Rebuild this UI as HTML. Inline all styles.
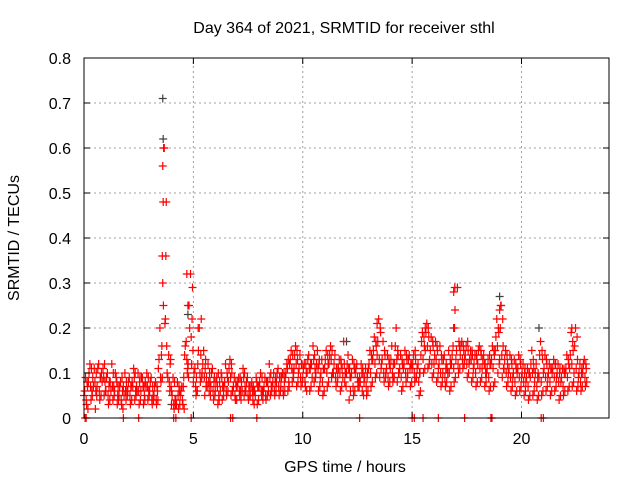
<!DOCTYPE html>
<html><head><meta charset="utf-8"><style>
body{margin:0;background:#fff}
svg{display:block;font-family:"Liberation Sans",sans-serif}
</style></head><body>
<svg id="chart" width="640" height="480">
<rect width="640" height="480" fill="#fff"/>
<text x="344" y="33" font-size="16" text-anchor="middle">Day 364 of 2021, SRMTID for receiver sthl</text>
<text x="345" y="472" font-size="16" text-anchor="middle">GPS time / hours</text>
<text transform="translate(19,238) rotate(-90)" font-size="16" text-anchor="middle">SRMTID / TECUs</text>
<g id="grid"></g>
<g id="marks"></g>
<rect x="84" y="58" width="525" height="360" fill="none" stroke="#000" stroke-width="1"/>
<g id="ticks"></g>
</svg>
<script>
const xTicks=[0,5,10,15,20];
const yTicks=[0,0.1,0.2,0.3,0.4,0.5,0.6,0.7,0.8];
const yTickLabels=["0","0.1","0.2","0.3","0.4","0.5","0.6","0.7","0.8"];
const hours=[0,0.2,0.4,0.6,0.8,1,1.2,1.4,1.6,1.8,2,2.2,2.4,2.6,2.8,3,3.2,
3.4,3.6,3.8,4,4.2,4.4,4.6,4.8,5,
5.2,5.4,5.6,5.8,6,6.2,6.4,6.6,6.8,7,
7.2,7.4,7.6,7.8,8,8.2,8.4,8.6,8.8,9,
9.2,9.4,9.6,9.8,10,10.2,10.4,10.6,10.8,11,
11.2,11.4,11.6,11.8,12,12.2,12.4,12.6,12.8,13,
13.2,13.4,13.6,13.8,14,14.2,14.4,14.6,14.8,15,
15.2,15.4,15.6,15.8,16,16.2,16.4,16.6,16.8,17,
17.2,17.4,17.6,17.8,18,18.2,18.4,18.6,18.8,19,
19.2,19.4,19.6,19.8,20,20.2,20.4,20.6,20.8,21,
21.2,21.4,21.6,21.8,22,22.2,22.4,22.6,22.8];
const seriesA=[5,8,9,7,10,6,8,6,5,7,6,8,7,6,8,6,5,
11,30,10,6,4,5,14,25,8,
12,10,9,7,6,8,7,8,6,7,
8,6,5,6,7,6,8,7,8,7,
9,12,11,10,9,10,12,10,9,11,
12,10,9,11,10,9,10,9,8,11,
13,14,12,10,11,12,10,11,10,11,
9,14,15,13,12,11,10,11,12,13,
14,13,12,11,12,11,10,12,15,13,
11,10,9,10,9,8,9,8,9,10,
9,10,9,8,10,11,10,9,10];
const seriesB=[9,12,11,12,11,10,12,9,8,10,9,11,10,9,10,9,8,
20,60,14,9,8,7,17,32,11,
20,15,12,11,9,10,12,13,9,9,
11,9,8,9,10,9,12,10,11,10,
12,15,16,14,12,14,16,15,13,15,
16,14,13,17,14,13,12,12,11,15,
18,22,17,14,16,20,14,15,14,14,
12,19,21,18,17,16,14,15,16,29,
17,16,15,14,16,14,13,16,22,25,
15,14,13,14,12,11,15,12,17,14,
12,13,12,11,14,19,20,12,13];
const seriesC=[3,4,2,4,5,3,4,3,3,4,3,4,3,3,4,3,3,
8,22,6,2,2,3,10,12,5,
8,5,6,4,3,4,5,5,4,5,
5,4,4,3,5,4,5,5,5,5,
6,8,7,7,7,6,8,6,5,7,
9,7,6,8,4,5,7,6,5,7,
9,9,8,7,8,8,6,8,7,8,
5,10,11,9,8,7,7,6,8,10,
11,9,8,7,8,7,6,7,10,9,
7,6,5,6,5,4,5,4,5,6,
5,6,4,5,6,7,6,6,7];
const seriesD=[7,6,10,9,8,8,7,7,6,6,7,6,9,5,6,5,6,
16,48,13,4,6,9,12,29,6,
22,13,8,9,5,7,9,10,7,6,
7,7,6,7,6,8,7,9,9,8,
8,10,13,12,10,12,11,13,11,12,
10,11,12,10,9,11,8,10,10,13,
16,19,14,12,9,14,12,13,12,13,
10,16,18,16,15,13,12,12,24,16,
15,15,14,13,14,10,12,14,19,16,
12,12,11,12,11,10,11,10,13,12,
11,12,11,10,12,15,13,11,11];
const seriesE=[6,10,7,11,8,9,6,10,7,5,8,7,6,9,7,8,7,
13,25,9,5,3,6,16,20,10,
15,12,7,10,8,6,8,11,7,8,
6,8,7,5,8,7,6,8,10,9,
10,13,14,11,11,13,9,12,10,13,
14,12,11,9,12,10,11,8,9,12,
15,17,13,11,13,16,11,12,13,12,
11,17,19,15,14,12,13,10,14,15,
16,14,13,12,15,13,11,13,18,20,
13,11,10,11,10,9,12,10,14,11,
10,11,10,9,11,14,16,10,12];
const seriesF=[4,7,8,6,9,5,7,8,4,6,5,9,6,7,7,4,4,
9,21,8,3,5,4,13,18,7,
10,9,8,6,7,9,6,9,5,6,
9,5,6,8,6,5,9,6,7,6,
11,11,12,9,8,11,13,11,8,10,
13,9,10,12,11,7,9,10,7,10,
12,13,10,9,10,13,9,10,11,10,
8,13,16,12,13,10,9,10,11,12,
13,12,13,10,11,12,9,11,16,14,
10,9,8,9,8,7,10,7,8,9,
8,9,8,7,9,12,11,8,9];
const seriesG=[8,11,6,9,12,7,10,5,9,8,7,10,8,7,9,7,7,
14,36,12,8,7,7,11,22,9,
14,11,10,8,10,7,10,12,8,9,
10,7,7,7,9,8,10,8,9,10,
13,14,15,12,12,11,14,12,11,14,
15,11,13,10,11,12,8,11,9,14,
17,20,15,13,12,15,13,14,12,15,
10,18,20,17,16,14,11,13,20,17,
16,17,15,14,15,12,14,15,20,22,
14,13,12,13,10,10,13,9,15,13,
11,12,10,11,13,17,18,10,12];
const seriesH=[2,5,5,5,6,4,5,4,2,5,4,5,4,4,5,4,4,
9,16,7,3,3,2,9,15,6,
9,7,5,5,4,5,6,6,4,4,
6,5,3,4,4,5,6,6,6,6,
7,9,8,8,6,7,9,7,6,8,
10,8,7,7,6,6,7,5,6,8,
10,11,9,8,9,10,7,9,8,9,
6,11,12,10,9,8,8,7,9,11,
12,10,9,8,9,8,7,8,12,11,
8,7,6,7,6,5,6,5,6,7,
6,7,5,6,7,8,7,7,8];
const extraHours=[3.58,3.6,3.64,3.62,4.7,4.75,5.22,16.9,16.95,19.0,19.05,22.3,13.4,15.6];
const extraVals=[0.36,0.56,0.6,0.48,0.32,0.25,0.2,0.28,0.29,0.24,0.25,0.2,0.21,0.2];
const grayHours=[3.6,3.62,4.75,16.9,19.0,20.8,12.0,4.0];
const grayVals=[0.71,0.62,0.23,0.2,0.27,0.2,0.17,0.03];
const zeroHours=[0.05,0.1,1.8,2.5,4.1,4.2,4.9,6.7,6.8,7.9,12.6,15.0,15.1,15.5,16.2,17.4,18.6,18.65,20.9,21.0];

const X0=84,X1=609,Y0=418,Y1=58,XMAX=24,YMAX=0.8;
const xs=h=>X0+(X1-X0)*h/XMAX;
const ys=v=>Y0-(Y0-Y1)*v/YMAX;
const NS="http://www.w3.org/2000/svg";
const grid=document.getElementById('grid'),ticks=document.getElementById('ticks'),marks=document.getElementById('marks');
function mk(tag,attrs,parent){const e=document.createElementNS(NS,tag);for(const k in attrs)e.setAttribute(k,attrs[k]);parent.appendChild(e);return e;}
xTicks.forEach(t=>{
  const x=xs(t);
  if(t>0){const g=mk('line',{x1:x,y1:Y0,x2:x,y2:Y1,stroke:'#a0a0a0','stroke-dasharray':'2,3'},grid);
  
  }
  const tk=mk('line',{x1:x,y1:Y0,x2:x,y2:Y0-6,stroke:'#000'},ticks);
  
  
  mk('line',{x1:x,y1:Y1,x2:x,y2:Y1+6,stroke:'#000'},ticks);
  const lb=mk('text',{x:x,y:444,'font-size':16,'text-anchor':'middle'},ticks);lb.textContent=t;
  
  
});
yTicks.forEach((t,i)=>{
  const y=ys(t);
  if(t>0&&t<YMAX){const g=mk('line',{x1:X0,y1:y,x2:X1,y2:y,stroke:'#a0a0a0','stroke-dasharray':'2,3'},grid);
  
  }
  const tk=mk('line',{x1:X0,y1:y,x2:X0+6,y2:y,stroke:'#000'},ticks);
  
  
  mk('line',{x1:X1,y1:y,x2:X1-6,y2:y,stroke:'#000'},ticks);
  const lb=mk('text',{x:X0-13,y:y+6,'font-size':16,'text-anchor':'end'},ticks);lb.textContent=yTickLabels[i];
  
  
});
function plus(h,v,color,name){
  const x=xs(h),y=ys(v);
  const p=mk('path',{d:`M${x-4},${y}H${x+4}M${x},${y-4}V${y+4}`,stroke:color,'stroke-width':1.2,fill:'none'},marks);
  
  
}
grayHours.forEach((h,i)=>plus(h,grayVals[i],'#404040','gray-point'));
const series=[[seriesA,0],[seriesB,0.07],[seriesC,0.12],[seriesD,0.16],[seriesE,0.03],[seriesF,0.1],[seriesG,0.14],[seriesH,0.18]];
series.forEach(([arr,off])=>{hours.forEach((h,i)=>plus(h+off,arr[i]/100,'#ff0000','srmtid-point'));});
extraHours.forEach((h,i)=>plus(h,extraVals[i],'#ff0000','srmtid-point'));
zeroHours.forEach(h=>plus(h,0,'#ff0000','zero-point'));
</script>
</body></html>
